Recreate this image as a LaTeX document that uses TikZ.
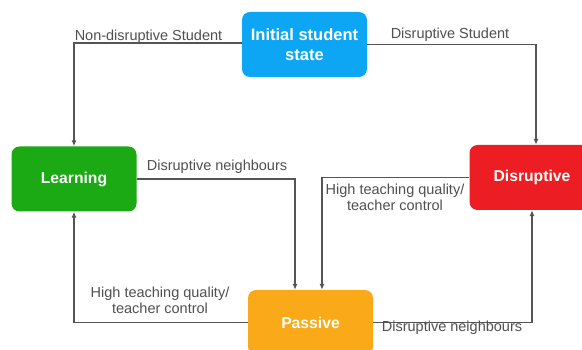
\documentclass[tikz,border=0pt]{standalone}
\usepackage{fontspec}
\setmainfont{Liberation Sans}
\usetikzlibrary{arrows.meta}
\definecolor{initblue}{RGB}{12,166,244}
\definecolor{learngreen}{RGB}{27,170,20}
\definecolor{disred}{RGB}{236,30,36}
\definecolor{passorange}{RGB}{250,170,25}
\definecolor{linegrey}{RGB}{85,85,85}
\definecolor{textgrey}{RGB}{80,80,80}
\tikzset{
  statebox/.style={rectangle, rounded corners=8pt, draw=none, text=white,
    minimum width=125pt, minimum height=65pt, inner sep=0pt, align=center,
    font=\fontsize{15.7}{19}\selectfont\bfseries},
  flow/.style={draw=linegrey, line width=1.2pt,
    -{Latex[length=6pt,width=5pt]}},
  flowlabel/.style={text=textgrey, inner sep=0pt, align=center,
    font=\fontsize{14.5}{16}\selectfont}
}
\begin{document}
\begin{tikzpicture}[x=1pt,y=-1pt]
  \useasboundingbox (0,0) rectangle (582,350);
  \clip (0,0) rectangle (582,350);
  \fill[white] (0,0) rectangle (582,350);

  % states
  \node[statebox, fill=initblue, font=\fontsize{16.5}{20.5}\selectfont\bfseries]
    (init) at (304.5,44.5) {Initial student\\state};
  \node[statebox, fill=learngreen] (learn) at (74,179) {Learning};
  \node[statebox, fill=disred] (dis) at (532,177.5) {Disruptive};
  \node[statebox, fill=passorange] (pass) at (310.5,322.5) {Passive};

  % transitions
  \draw[flow] ([yshift=1.5pt]init.west) -| (learn.north);
  \draw[flow] (init.east) -| ([xshift=4pt]dis.north);
  \draw[flow] (learn.east) -| ([xshift=-15.5pt]pass.north);
  \draw[flow] (dis.west) -| ([xshift=11.5pt]pass.north);
  \draw[flow] (pass.west) -| (learn.south);
  \draw[flow] (pass.east) -| (dis.south);

  % transition labels (base anchor sits on the last line)
  \node[flowlabel, anchor=base] (l1) at (148.5,41) {Non-disruptive Student};
  \node[flowlabel, anchor=base] (l2) at (450,39) {Disruptive Student};
  \node[flowlabel, anchor=base] (l3) at (217,171) {Disruptive neighbours};
  \node[flowlabel, anchor=base] (l4) at (395,211) {High teaching quality/\\teacher control};
  \node[flowlabel, anchor=base] (l5) at (160,313) {High teaching quality/\\teacher control};
  \node[flowlabel, anchor=base] (l6) at (452,331) {Disruptive neighbours};
\end{tikzpicture}
\end{document}
